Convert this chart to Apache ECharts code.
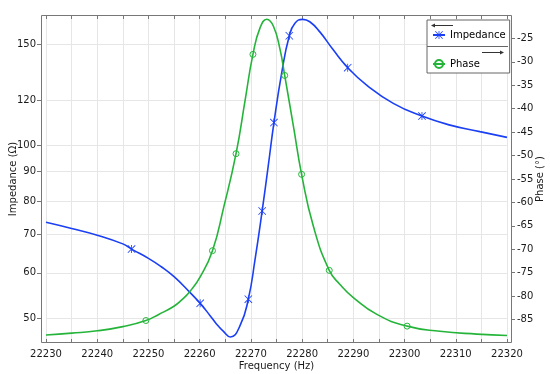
<!DOCTYPE html>
<html>
<head>
<meta charset="utf-8">
<script src="https://cdn.jsdelivr.net/npm/echarts@6/dist/echarts.min.js"></script>
<style>
  html, body { margin: 0; padding: 0; background: #fff; }
  #chart { width: 550px; height: 374px; }
</style>
</head>
<body>
<div id="chart"></div>
<script>
// impedance curve (Ohm)
const impFreq = [22230, 22235, 22240, 22245, 22246.7, 22250, 22252.5, 22255, 22258, 22260.1, 22262, 22263.2, 22264.6, 22266, 22267.9, 22269.5, 22270.8, 22272.2, 22273.4, 22274.5, 22276, 22277.5, 22278.6, 22280.1, 22281.5, 22283.5, 22286, 22288.9, 22292.6, 22297.8, 22303.4, 22308.9, 22314.7, 22320];
const impOhm = [73.5, 71.7, 69.8, 67.4, 66.0, 63.6, 61.5, 59.1, 55.6, 53.1, 50.6, 49.0, 47.5, 46.4, 48.6, 54.0, 63.2, 76.9, 92.3, 109.6, 133.5, 155.2, 163.2, 165.8, 164.2, 157.5, 147.0, 136.6, 127.4, 118.4, 112.5, 108.5, 105.7, 103.3];
const impMarks = [22246.7, 22260.1, 22269.5, 22272.2, 22274.5, 22277.5, 22288.9, 22303.4];

// phase curve (deg)
const phaseFreq = [22230, 22235, 22240, 22245, 22249.5, 22252, 22254.9, 22256.5, 22258.1, 22260.1, 22262.5, 22264.7, 22267.1, 22268.9, 22270.4, 22271.8, 22273.1, 22274.4, 22275.7, 22276.6, 22278.3, 22279.9, 22282.2, 22285.3, 22287.4, 22290, 22294.6, 22300.5, 22306.9, 22314.1, 22320];
const phaseDeg = [-88.3, -87.9, -87.4, -86.5, -85.2, -83.9, -82.2, -80.8, -79.0, -75.9, -70.3, -61.0, -49.6, -38.0, -28.4, -22.7, -20.9, -22.4, -27.4, -32.9, -43.7, -54.0, -65.1, -74.5, -77.5, -80.3, -83.9, -86.4, -87.5, -88.1, -88.4];
const phaseMarks = [22249.5, 22262.5, 22267.1, 22270.4, 22276.6, 22279.9, 22285.3, 22300.5];

const impTicks = [50, 60, 70, 80, 90, 100, 120, 150];
const impRange = [45.3, 168.7];
const phaseRange = [-90, -20];
const freqRange = [22230, 22320];

const BLUE = '#1a3ff5';
const GREEN = '#25b43a';
const GRID = '#e6e6e6';
const TXT = '#1a1a1a';
const FONT = 'DejaVu Sans';
const STAR = 'path://M9 0L11 0L11 20L9 20Z M0 1.4L1.4 0L20 18.6L18.6 20Z M18.6 0L20 1.4L1.4 20L0 18.6Z';

const log10 = v => Math.log10(v);

const impData = impFreq.map((f, i) => ({
  value: [f, log10(impOhm[i])],
  symbol: impMarks.includes(f) ? STAR : 'none'
}));
const phaseData = phaseFreq.map((f, i) => ({
  value: [f, phaseDeg[i]],
  symbol: phaseMarks.includes(f) ? 'circle' : 'none'
}));

const chart = echarts.init(document.getElementById('chart'));

const xCommon = {
  type: 'value',
  min: freqRange[0],
  max: freqRange[1],
  interval: 10,
  axisLine: { show: false },
  axisTick: { inside: true, length: 4, lineStyle: { color: '#777' } },
  minorTick: { show: true, splitNumber: 2, length: 4, lineStyle: { color: '#777' } }
};
const nameStyle = { fontSize: 10, color: TXT, fontFamily: FONT };

chart.setOption({
  animation: false,
  textStyle: { fontFamily: FONT },
  grid: { left: 46, right: 43, top: 15, bottom: 31, outerBoundsMode: 'none', containLabel: false },
  xAxis: [
    Object.assign({}, xCommon, {
      position: 'bottom',
      name: 'Frequency (Hz)',
      nameLocation: 'middle',
      nameGap: 18,
      nameMoveOverlap: false,
      nameTextStyle: nameStyle,
      axisLabel: { fontSize: 10, color: TXT, fontFamily: FONT, margin: 6, formatter: v => String(v) },
      splitLine: { show: true, lineStyle: { color: GRID } },
      minorSplitLine: { show: true, lineStyle: { color: GRID } }
    }),
    Object.assign({}, xCommon, {
      position: 'top',
      axisLabel: { show: false },
      splitLine: { show: false }
    })
  ],
  yAxis: [
    {
      type: 'value',
      position: 'left',
      offset: 5,
      min: log10(impRange[0]),
      max: log10(impRange[1]),
      name: 'Impedance (\u03a9)',
      nameLocation: 'middle',
      nameGap: 23,
      nameMoveOverlap: false,
      nameTextStyle: nameStyle,
      axisLine: { show: false },
      axisTick: { show: true, length: 4, customValues: impTicks.map(log10), lineStyle: { color: '#777' } },
      axisLabel: {
        customValues: impTicks.map(log10),
        formatter: v => String(Math.round(Math.pow(10, v))),
        fontSize: 10, color: TXT, fontFamily: FONT, margin: 5
      },
      splitLine: { show: true, lineStyle: { color: GRID } }
    },
    {
      type: 'value',
      position: 'right',
      offset: 5,
      min: phaseRange[0],
      max: phaseRange[1],
      interval: 5,
      name: 'Phase (\u00b0)',
      nameLocation: 'middle',
      nameGap: 23,
      nameMoveOverlap: false,
      nameTextStyle: nameStyle,
      axisLine: { show: false },
      axisTick: { show: true, length: 3, lineStyle: { color: '#777' } },
      axisLabel: {
        showMinLabel: false, showMaxLabel: false,
        fontSize: 10, color: TXT, fontFamily: FONT, margin: 5
      },
      splitLine: { show: false }
    }
  ],
  legend: {
    orient: 'vertical',
    left: 427,
    top: 20,
    padding: [10, 4, 4, 5],
    itemWidth: 12,
    itemHeight: 10,
    itemGap: 19,
    backgroundColor: '#fff',
    borderColor: '#666',
    borderWidth: 1,
    textStyle: { fontSize: 10, color: '#000', fontFamily: FONT },
    data: ['Impedance', 'Phase']
  },
  graphic: [
    {
      type: 'rect', silent: true, z: 1,
      shape: { x: 41.5, y: 15.5, width: 470, height: 327 },
      style: { fill: 'none', stroke: '#777', lineWidth: 1 }
    },
    { type: 'line', silent: true, z: 100, shape: { x1: 427, y1: 46.5, x2: 508, y2: 46.5 }, style: { stroke: '#666', lineWidth: 1 } },
    { type: 'line', silent: true, z: 100, shape: { x1: 434, y1: 25.5, x2: 453, y2: 25.5 }, style: { stroke: '#333', lineWidth: 1 } },
    { type: 'polygon', silent: true, z: 100, shape: { points: [[431, 25.5], [435, 23.5], [435, 27.5]] }, style: { fill: '#333' } },
    { type: 'line', silent: true, z: 100, shape: { x1: 482, y1: 52.5, x2: 501, y2: 52.5 }, style: { stroke: '#333', lineWidth: 1 } },
    { type: 'polygon', silent: true, z: 100, shape: { points: [[504, 52.5], [500, 50.5], [500, 54.5]] }, style: { fill: '#333' } }
  ],
  series: [
    {
      name: 'Impedance',
      type: 'line',
      xAxisIndex: 0,
      yAxisIndex: 0,
      smooth: 0.5,
      color: BLUE,
      symbol: STAR,
      symbolSize: 8,
      showAllSymbol: true,
      lineStyle: { color: BLUE, width: 1.6 },
      itemStyle: { color: BLUE },
      data: impData
    },
    {
      name: 'Phase',
      type: 'line',
      xAxisIndex: 0,
      yAxisIndex: 1,
      smooth: 0.5,
      color: GREEN,
      symbol: 'circle',
      symbolSize: 6,
      showAllSymbol: true,
      lineStyle: { color: GREEN, width: 1.6 },
      itemStyle: { color: 'rgba(0,0,0,0)', borderColor: GREEN, borderWidth: 1 },
      data: phaseData
    }
  ]
});
</script>
</body>
</html>
